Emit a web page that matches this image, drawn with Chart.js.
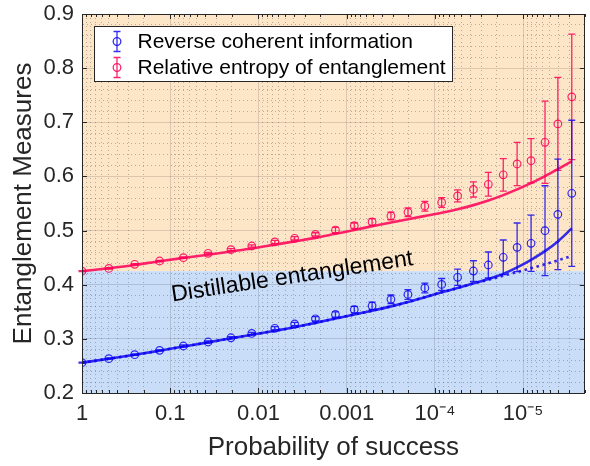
<!DOCTYPE html>
<html><head><meta charset="utf-8">
<script src="https://cdn.jsdelivr.net/npm/chart.js@4/dist/chart.umd.min.js"></script>
<style>html,body{margin:0;padding:0;background:#fff}canvas{display:block}</style>
</head><body>
<canvas id="c" width="590" height="466"></canvas>
<script>
// ---------- data ----------
const probability = [1, 0.497, 0.253, 0.132, 0.0710, 0.0372, 0.0205, 0.0119, 0.00653, 0.00389, 0.00226, 0.00134,
  8.20e-4, 5.15e-4, 3.15e-4, 2.02e-4, 1.30e-4, 8.38e-5, 5.53e-5, 3.66e-5, 2.48e-5, 1.68e-5, 1.17e-5, 8.13e-6, 5.65e-6, 4.04e-6, 2.81e-6];

const rciMeasured = [0.256, 0.2634, 0.2707, 0.2788, 0.2868, 0.2942, 0.302, 0.310, 0.3195, 0.3274, 0.337, 0.345,
  0.354, 0.361, 0.373, 0.382, 0.394, 0.4005, 0.4137, 0.4253, 0.4364, 0.4506, 0.469, 0.4765, 0.4998, 0.530, 0.5688];
const rciError = [0.001, 0.001, 0.001, 0.001, 0.002, 0.002, 0.002, 0.002, 0.003, 0.003, 0.004, 0.005,
  0.006, 0.007, 0.008, 0.009, 0.009, 0.011, 0.015, 0.019, 0.024, 0.032, 0.045, 0.052, 0.083, 0.102, 0.135];

const reeMeasured = [0.425, 0.430, 0.4377, 0.4438, 0.450, 0.458, 0.4647, 0.4715, 0.479, 0.4857, 0.493, 0.501,
  0.509, 0.516, 0.527, 0.534, 0.545, 0.552, 0.564, 0.576, 0.5855, 0.603, 0.623, 0.629, 0.663, 0.697, 0.747];
const reeError = [0.001, 0.001, 0.001, 0.001, 0.0015, 0.0015, 0.002, 0.002, 0.003, 0.003, 0.003, 0.005,
  0.005, 0.006, 0.007, 0.008, 0.009, 0.009, 0.011, 0.014, 0.022, 0.030, 0.040, 0.041, 0.076, 0.086, 0.116];

const rciTheory = [0.256, 0.2632, 0.2705, 0.2782, 0.2858, 0.2935, 0.301, 0.3075, 0.315, 0.3215, 0.3295, 0.3375,
  0.345, 0.352, 0.360, 0.368, 0.377, 0.386, 0.394, 0.4025, 0.4105, 0.420, 0.432, 0.446, 0.462, 0.480, 0.504];
const rciTrend = [0.256, 0.2632, 0.2705, 0.2782, 0.2858, 0.2935, 0.301, 0.3075, 0.315, 0.3215, 0.3295, 0.3375,
  0.345, 0.352, 0.360, 0.368, 0.377, 0.386, 0.394, 0.4025, 0.409, 0.4165, 0.4235, 0.4305, 0.438, 0.445, 0.453];
const reeTheory = [0.425, 0.4305, 0.4365, 0.4435, 0.4495, 0.4555, 0.4615, 0.467, 0.474, 0.480, 0.4865, 0.494,
  0.501, 0.508, 0.515, 0.521, 0.527, 0.533, 0.5395, 0.547, 0.5555, 0.5655, 0.576, 0.5875, 0.6005, 0.6135, 0.628];

const seriesLabels = ['Reverse coherent information', 'Relative entropy of entanglement'];
const xMajorTicks = [1, 0.1, 0.01, 0.001, 1e-4, 1e-5];
const xTickLabels = ['1', '0.1', '0.01', '0.001', '10\u207B\u2074', '10\u207B\u2075'];
const yMajorTicks = [0.2, 0.3, 0.4, 0.5, 0.6, 0.7, 0.8, 0.9];
const yTickLabels = ['0.2', '0.3', '0.4', '0.5', '0.6', '0.7', '0.8', '0.9'];
const distillableBoundary = 0.425;
const regionLabel = 'Distillable entanglement';
const regionLabelAt = {x: 0.0944, y: 0.369};

// ---------- styling ----------
const FONT = "'Liberation Sans', Arial, Helvetica, sans-serif";
const INK = '#262626';
const BLUE = 'rgba(10,0,240,0.82)';
const PINK = 'rgba(255,0,88,0.86)';
const X_MIN = 2e-6, X_MAX = 1, Y_MIN = 0.2, Y_MAX = 0.9;

// minor tick positions (2..9 x 10^n) and y every 0.02
const xTicks = [];
for (let e = -6; e <= 0; e++) for (let m = 1; m <= 9; m++) {
  const v = Number((m * Math.pow(10, e)).toPrecision(6));
  if (v >= X_MIN && v <= X_MAX) xTicks.push(v);
}
const yTicks = [];
for (let i = 0; i <= 35; i++) yTicks.push(Math.round((Y_MIN + i * 0.02) * 1000) / 1000);
const xMajorIndex = v => xMajorTicks.findIndex(t => Math.abs(Math.log10(t) - Math.log10(v)) < 1e-6);
const yMajorIndex = v => yMajorTicks.findIndex(t => Math.abs(t - v) < 1e-6);

const pts = arr => probability.map((p, i) => ({x: p, y: arr[i]}));

const bgPlugin = {
  id: 'regions',
  beforeDraw(chart) {
    const {ctx, chartArea: a, scales: {y}} = chart;
    const yb = y.getPixelForValue(distillableBoundary);
    ctx.save();
    ctx.fillStyle = '#fde6c8';
    ctx.fillRect(a.left, a.top, a.right - a.left, yb - a.top);
    ctx.fillStyle = '#c9ddf9';
    ctx.fillRect(a.left, yb, a.right - a.left, a.bottom - yb);
    ctx.restore();
  }
};

const errPlugin = {
  id: 'errbars',
  afterDatasetDraw(chart, args) {
    const ds = chart.data.datasets[args.index];
    if (!ds.errors) return;
    const {ctx, scales: {x, y}} = chart;
    ctx.save();
    ctx.strokeStyle = ds.borderColor;
    ctx.lineWidth = 1.3;
    ds.data.forEach((d, i) => {
      const e = ds.errors[i];
      const px = x.getPixelForValue(d.x);
      const y1 = y.getPixelForValue(d.y + e), y2 = y.getPixelForValue(d.y - e);
      ctx.beginPath();
      ctx.moveTo(px, y1); ctx.lineTo(px, y2);
      ctx.moveTo(px - 3.5, y1); ctx.lineTo(px + 3.5, y1);
      ctx.moveTo(px - 3.5, y2); ctx.lineTo(px + 3.5, y2);
      ctx.stroke();
    });
    ctx.restore();
  }
};

function drawGlyph(ctx, cx, cy, color) {
  ctx.save();
  ctx.strokeStyle = color; ctx.lineWidth = 1.3;
  ctx.beginPath();
  ctx.moveTo(cx, cy - 10); ctx.lineTo(cx, cy + 10);
  ctx.moveTo(cx - 3.5, cy - 10); ctx.lineTo(cx + 3.5, cy - 10);
  ctx.moveTo(cx - 3.5, cy + 10); ctx.lineTo(cx + 3.5, cy + 10);
  ctx.stroke();
  ctx.beginPath(); ctx.arc(cx, cy, 3.8, 0, Math.PI * 2); ctx.stroke();
  ctx.restore();
}

const decorPlugin = {
  id: 'decor',
  afterDatasetsDraw(chart) {
    const {ctx, scales: {x, y}} = chart;
    ctx.save();
    ctx.translate(x.getPixelForValue(regionLabelAt.x), y.getPixelForValue(regionLabelAt.y));
    ctx.rotate(-8.6 * Math.PI / 180);
    ctx.font = '23px ' + FONT;
    ctx.fillStyle = '#000';
    ctx.textAlign = 'left'; ctx.textBaseline = 'alphabetic';
    ctx.fillText(regionLabel, 0, 0);
    ctx.restore();
  },
  afterDraw(chart) {
    const {ctx, chartArea: a, scales: {x, y}} = chart;
    ctx.save();
    // inner tick marks
    ctx.strokeStyle = INK; ctx.lineWidth = 1;
    ctx.beginPath();
    x.ticks.forEach(t => {
      const px = Math.round(x.getPixelForValue(t.value)) + 0.5;
      const len = xMajorIndex(t.value) >= 0 ? 5 : 3;
      ctx.moveTo(px, a.bottom); ctx.lineTo(px, a.bottom - len);
      ctx.moveTo(px, a.top); ctx.lineTo(px, a.top + len);
    });
    y.ticks.forEach(t => {
      if (yMajorIndex(t.value) < 0) return;
      const py = Math.round(y.getPixelForValue(t.value)) + 0.5;
      ctx.moveTo(a.left, py); ctx.lineTo(a.left + 5, py);
      ctx.moveTo(a.right, py); ctx.lineTo(a.right - 5, py);
    });
    ctx.stroke();
    // box
    ctx.strokeRect(Math.round(a.left) + 0.5, Math.round(a.top) + 0.5, Math.round(a.right - a.left) - 1, Math.round(a.bottom - a.top));
    // legend
    const lx = Math.round(a.left) + 12.5, ly = Math.round(a.top) + 12.5, lw = 358, lh = 55;
    ctx.fillStyle = '#fff';
    ctx.fillRect(lx, ly, lw, lh);
    ctx.strokeStyle = INK; ctx.lineWidth = 1;
    ctx.strokeRect(lx, ly, lw, lh);
    const legendSets = chart.data.datasets.filter(d => d.errors);
    legendSets.forEach((d, i) => {
      const cy = ly + 15 + i * 26;
      drawGlyph(ctx, lx + 22.5, cy, d.borderColor);
      ctx.fillStyle = '#000';
      ctx.font = '21px ' + FONT;
      ctx.textAlign = 'left'; ctx.textBaseline = 'middle';
      ctx.fillText(d.label, lx + 43, cy + 1);
    });
    ctx.restore();
  }
};

new Chart(document.getElementById('c'), {
  type: 'scatter',
  data: {
    datasets: [
      {label: seriesLabels[0], data: pts(rciMeasured), errors: rciError, showLine: false,
        borderColor: BLUE, backgroundColor: 'rgba(0,0,0,0)', pointRadius: 3.8, pointBorderWidth: 1.2},
      {label: seriesLabels[1], data: pts(reeMeasured), errors: reeError, showLine: false,
        borderColor: PINK, backgroundColor: 'rgba(0,0,0,0)', pointRadius: 3.8, pointBorderWidth: 1.2},
      {label: 'rci theory', data: pts(rciTheory), showLine: true, borderColor: BLUE, borderWidth: 2.6,
        pointRadius: 0, cubicInterpolationMode: 'monotone'},
      {label: 'rci trend', data: pts(rciTrend), showLine: true, borderColor: BLUE, borderWidth: 2.6,
        borderDash: [2.6, 3.6], pointRadius: 0, cubicInterpolationMode: 'monotone'},
      {label: 'ree theory', data: pts(reeTheory), showLine: true, borderColor: PINK, borderWidth: 2.6,
        pointRadius: 0, cubicInterpolationMode: 'monotone'}
    ]
  },
  options: {
    responsive: false, animation: false, events: [],
    layout: {padding: {top: 14, right: 2, left: 0, bottom: 0}},
    plugins: {legend: {display: false}, tooltip: {enabled: false}},
    scales: {
      x: {
        type: 'logarithmic', reverse: true, min: X_MIN, max: X_MAX,
        afterBuildTicks: ax => { ax.ticks = xTicks.map(v => ({value: v, major: false})); },
        afterFit: ax => { ax.height = 73; ax.paddingLeft = 0; ax.paddingRight = 0; },
        ticks: {autoSkip: false, maxRotation: 0, minRotation: 0, padding: 8, color: INK,
          font: {family: FONT, size: 22},
          callback: v => { const i = xMajorIndex(v); return i >= 0 ? xTickLabels[i] : ''; }},
        grid: {drawTicks: false,
          color: c => (c.tick && xMajorIndex(c.tick.value) >= 0) ? 'rgba(38,38,38,0.16)' : 'rgba(38,38,38,0.3)'},
        border: {display: true, color: INK, width: 1,
          dash: c => (c.tick && xMajorIndex(c.tick.value) < 0) ? [1, 3] : []},
        title: {display: true, text: 'Probability of success', color: INK,
          font: {family: FONT, size: 26}, padding: {top: 0, bottom: 2.5}}
      },
      y: {
        type: 'linear', min: Y_MIN, max: Y_MAX,
        afterBuildTicks: ax => { ax.ticks = yTicks.map(v => ({value: v})); },
        afterFit: ax => { ax.width = 82; ax.paddingTop = 0; ax.paddingBottom = 0; },
        ticks: {autoSkip: false, padding: 8, color: INK, font: {family: FONT, size: 22},
          callback: v => { const i = yMajorIndex(v); return i >= 0 ? yTickLabels[i] : ''; }},
        grid: {drawTicks: false,
          color: c => (c.tick && yMajorIndex(c.tick.value) >= 0) ? 'rgba(38,38,38,0.16)' : 'rgba(38,38,38,0.3)'},
        border: {display: true, color: INK, width: 1,
          dash: c => (c.tick && yMajorIndex(c.tick.value) < 0) ? [1, 3] : []},
        title: {display: true, text: 'Entanglement Measures', color: INK,
          font: {family: FONT, size: 26}, padding: {top: 8.5, bottom: 0}}
      }
    }
  },
  plugins: [bgPlugin, errPlugin, decorPlugin]
});
</script>
</body></html>
